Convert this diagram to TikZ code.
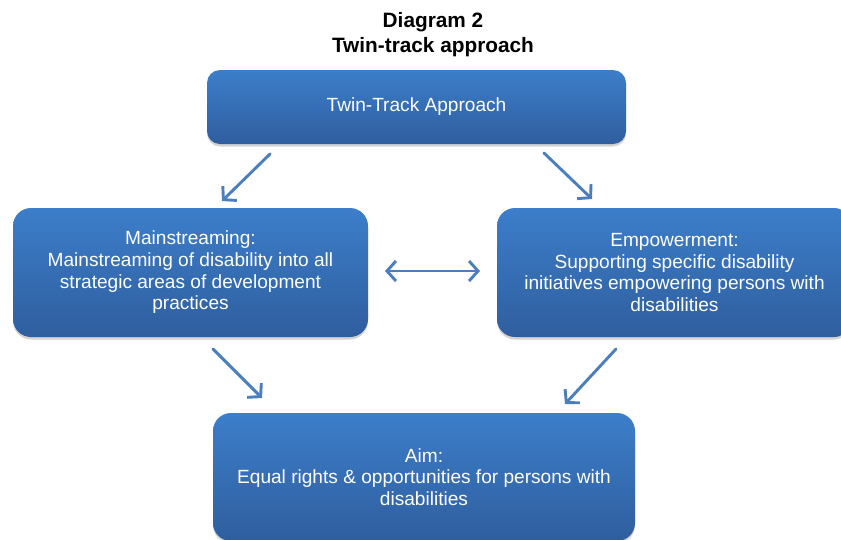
\documentclass[tikz,border=0pt]{standalone}
\usepackage{fontspec}
\setmainfont{Liberation Sans}
\usepackage{xcolor}
\usetikzlibrary{arrows.meta, shadows}

\definecolor{boxtop}{RGB}{60,126,202}
\definecolor{boxbot}{RGB}{47,94,158}
\definecolor{arrowblue}{RGB}{74,126,190}

\begin{document}
\begin{tikzpicture}[x=1pt, y=-1pt,
    box/.style={rounded corners=18pt, top color=boxtop, bottom color=boxbot,
        draw=none, text=white, align=center,
        font=\fontsize{19.1}{21.7}\selectfont,
        drop shadow={opacity=0.35, shadow xshift=0pt, shadow yshift=-2.5pt}},
    link/.style={line width=2.9pt, arrowblue, line cap=round,
        -{Straight Barb[length=9pt, width=20pt, line width=2.9pt]}},
    twoway/.style={link, {Straight Barb[length=9pt, width=20pt, line width=2.9pt]}-{Straight Barb[length=9pt, width=20pt, line width=2.9pt]}}]
        \useasboundingbox (0,0) rectangle (841,539);
        \node[font=\fontsize{20.8}{25}\selectfont\bfseries, align=center] (title) at (433,35) {Diagram 2\\Twin-track approach};
        \node[box, rounded corners=13pt, minimum width=419pt, minimum height=74pt] (twin) at (416.5,107) {Twin-Track Approach};
        \node[box, minimum width=355pt, minimum height=129pt] (main) at (190.5,272.5) {Mainstreaming:\\Mainstreaming of disability into all\\strategic areas of development\\practices};
        \node[box, minimum width=355pt, minimum height=129pt] (emp) at (674.5,272.5) {Empowerment:\\Supporting specific disability\\initiatives empowering persons with\\disabilities};
        \node[box, minimum width=422pt, minimum height=128pt] (aim) at (424,477) {Aim:\\Equal rights \& opportunities for persons with\\disabilities};
        % arrow ends in the gaps between the boxes
        \coordinate (tl1) at (270,154);  \coordinate (tl2) at (222,201);
        \coordinate (tr1) at (544,153);  \coordinate (tr2) at (592,199);
        \coordinate (mid1) at (385,271); \coordinate (mid2) at (480,271);
        \coordinate (bl1) at (213,349);  \coordinate (bl2) at (262,398);
        \coordinate (br1) at (616,349);  \coordinate (br2) at (565,404);
        \draw[link] (tl1) -- (tl2);
        \draw[link] (tr1) -- (tr2);
        \draw[twoway] (mid1) -- (mid2);
        \draw[link] (bl1) -- (bl2);
        \draw[link] (br1) -- (br2);
    \end{tikzpicture}
\end{document}
